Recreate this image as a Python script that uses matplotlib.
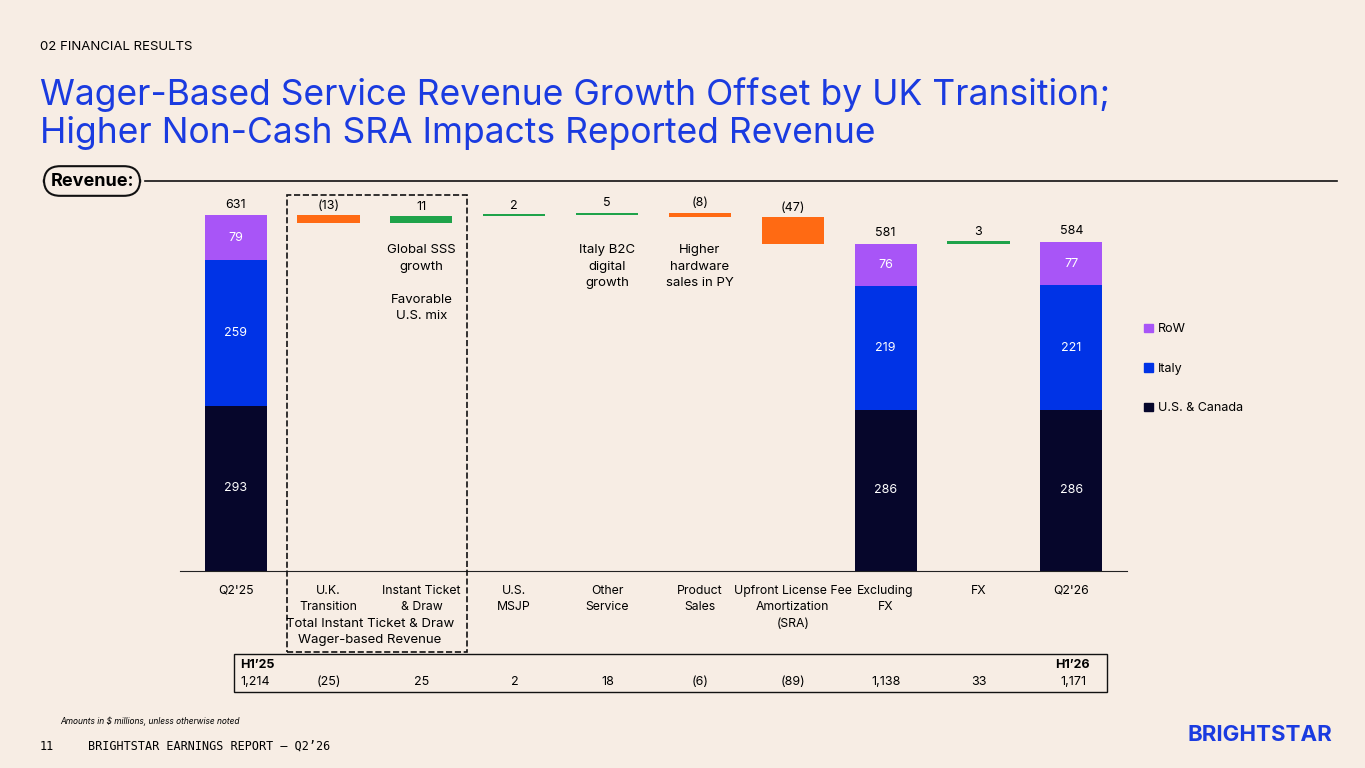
import matplotlib.pyplot as plt
import matplotlib.patches as mpatches
from matplotlib.lines import Line2D

categories = ["Q2'25", "U.K.\nTransition", "Instant Ticket\n& Draw", "U.S.\nMSJP", "Other\nService",
              "Product\nSales", "Upfront License Fee\nAmortization\n(SRA)", "Excluding\nFX", "FX", "Q2'26"]
us_canada = {0: 293, 7: 286, 9: 286}
italy = {0: 259, 7: 219, 9: 221}
row = {0: 79, 7: 76, 9: 77}
totals = {0: 631, 7: 581, 9: 584}
deltas = {1: -13, 2: 11, 3: 2, 4: 5, 5: -8, 6: -47, 8: 3}
delta_labels = {1: "(13)", 2: "11", 3: "2", 4: "5", 5: "(8)", 6: "(47)", 8: "3"}
notes = {2: "Global SSS\ngrowth\n\nFavorable\nU.S. mix", 4: "Italy B2C\ndigital\ngrowth", 5: "Higher\nhardware\nsales in PY"}
h1_values = ["1,214", "(25)", "25", "2", "18", "(6)", "(89)", "1,138", "33", "1,171"]

BG = "#f7ede4"
NAVY, BLUE, PURPLE = "#06062b", "#0033e6", "#a855f7"
ORANGE, GREEN = "#ff6a13", "#1fa34a"
TITLE = "#1a3be0"
plt.rcParams["font.family"] = ["Inter", "DejaVu Sans"]

fig = plt.figure(figsize=(13.65, 7.68), dpi=100, facecolor=BG)
ax = fig.add_axes([180 / 1365, 197 / 768, 947 / 1365, 372 / 768], facecolor="none")
ax.set_xlim(-0.6, 9.6)
ax.set_ylim(0, 660)
w = 0.67

level = 0
for i in range(len(categories)):
    if i in totals:
        ax.bar(i, us_canada[i], w, color=NAVY)
        ax.bar(i, italy[i], w, bottom=us_canada[i], color=BLUE)
        ax.bar(i, row[i], w, bottom=us_canada[i] + italy[i], color=PURPLE)
        ax.text(i, us_canada[i] / 2, str(us_canada[i]), ha="center", va="center", color="white", fontsize=9)
        ax.text(i, us_canada[i] + italy[i] / 2, str(italy[i]), ha="center", va="center", color="white", fontsize=9)
        ax.text(i, us_canada[i] + italy[i] + row[i] / 2, str(row[i]), ha="center", va="center", color="white", fontsize=9)
        ax.text(i, totals[i] + 8, str(totals[i]), ha="center", va="bottom", fontsize=9)
        level = totals[i]
    else:
        d = deltas[i]
        new = level + d
        h = max(abs(d), 4)
        bot = min(level, new)
        ax.bar(i, h, w, bottom=bot, color=GREEN if d > 0 else ORANGE)
        ax.text(i, max(level, new) + 6, delta_labels[i], ha="center", va="bottom", fontsize=9)
        if i in notes:
            ax.text(i, 580, notes[i], ha="center", va="top", fontsize=9.5, linespacing=1.5)
        level = new

ax.set_xticks(range(len(categories)))
ax.set_xticklabels(categories, fontsize=8.8, linespacing=1.5)
ax.tick_params(length=0, pad=10)
for s in ["top", "right", "left"]:
    ax.spines[s].set_visible(False)
ax.spines["bottom"].set_color("#222222")
ax.set_yticks([])

handles = [mpatches.Patch(color=c, label=l) for c, l in [(PURPLE, "RoW"), (BLUE, "Italy"), (NAVY, "U.S. & Canada")]]
fig.legend(handles=handles, loc="upper left", bbox_to_anchor=(1133 / 1365, 1 - 312 / 768), frameon=False,
           fontsize=9, handlelength=0.7, handleheight=0.7, labelspacing=2.2, handletextpad=0.4)

fig.text(40 / 1365, 1 - 47 / 768, "02 FINANCIAL RESULTS", fontsize=9.5, va="center")
fig.text(40 / 1365, 1 - 114 / 768, "Wager-Based Service Revenue Growth Offset by UK Transition;\nHigher Non-Cash SRA Impacts Reported Revenue",
         fontsize=25.5, color=TITLE, va="center", linespacing=1.15)
fig.text(92 / 1365, 1 - 181 / 768, "Revenue:", fontsize=13, fontweight="bold", ha="center", va="center",
         bbox=dict(boxstyle="round,pad=0.35,rounding_size=0.9", fc=BG, ec="#111111", lw=1.5), zorder=3)
fig.add_artist(Line2D([145 / 1365, 1337 / 1365], [1 - 181 / 768] * 2, color="#111111", lw=1.2, zorder=2))

fig.add_artist(mpatches.Rectangle((287 / 1365, 1 - 652 / 768), 180 / 1365, 457 / 768, fill=False,
                                  ls="--", ec="#111111", lw=1.2))
fig.text(370 / 1365, 1 - 632 / 768, "Total Instant Ticket & Draw\nWager-based Revenue", fontsize=9.5,
         ha="center", va="center", linespacing=1.4)

fig.add_artist(mpatches.Rectangle((234 / 1365, 1 - 692 / 768), 873 / 1365, 38 / 768, fill=False, ec="#111111", lw=1))
fig.text(240 / 1365, 1 - 665 / 768, "H1’25", fontsize=9, fontweight="bold", va="center")
fig.text(1090 / 1365, 1 - 665 / 768, "H1’26", fontsize=9, fontweight="bold", va="center", ha="right")
for i, v in enumerate(h1_values):
    x = 236 + 92.9 * i
    if i == 0:
        x = 255
    if i == 9:
        x = 1073
    fig.text(x / 1365, 1 - 682 / 768, v, fontsize=9, ha="center", va="center")

fig.text(60 / 1365, 1 - 721 / 768, "Amounts in $ millions, unless otherwise noted", fontsize=6, style="italic", va="center")
fig.text(40 / 1365, 1 - 746 / 768, "11", fontsize=8.5, family="DejaVu Sans Mono", va="center")
fig.text(88 / 1365, 1 - 746 / 768, "BRIGHTSTAR EARNINGS REPORT – Q2’26", fontsize=8.5, family="DejaVu Sans Mono", va="center")
fig.text(1332 / 1365, 1 - 735 / 768, "BRIGHTSTAR", fontsize=16, fontweight="bold", color=TITLE, ha="right", va="center")

fig.savefig("out.png", dpi=100, facecolor=BG)
